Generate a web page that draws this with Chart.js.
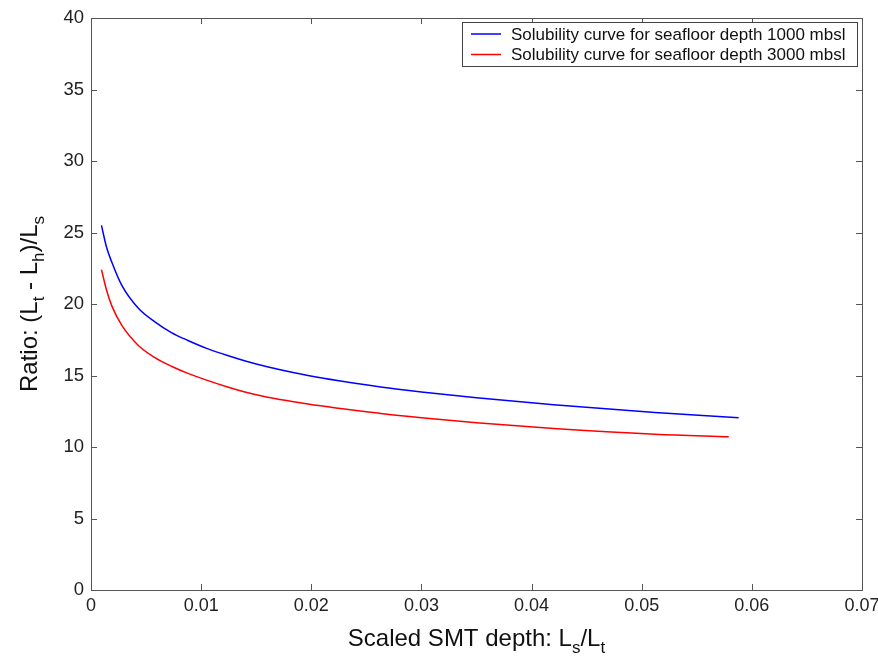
<!DOCTYPE html>
<html>
<head>
<meta charset="utf-8">
<script src="https://cdn.jsdelivr.net/npm/chart.js@4.4.0/dist/chart.umd.min.js"></script>
<style>
  body { margin: 0; background: #fff; }
  #chart { display: block; }
</style>
</head>
<body>
<canvas id="chart" width="878" height="664"></canvas>
<script>
// valeurs
const xDepth1000 = [0.00095, 0.0014, 0.0019, 0.0028, 0.0043, 0.0058, 0.0073, 0.0088, 0.0105, 0.0124, 0.015, 0.0197, 0.0263, 0.030, 0.035, 0.042, 0.0512, 0.0588];
const ratio1000  = [25.5, 24.0, 22.9, 21.3, 19.7, 18.75, 18.0, 17.45, 16.9, 16.4, 15.8, 15.0, 14.2, 13.85, 13.45, 12.95, 12.42, 12.05];
const xDepth3000 = [0.00095, 0.0014, 0.0019, 0.0028, 0.0043, 0.0058, 0.0073, 0.0088, 0.0124, 0.015, 0.0197, 0.0263, 0.030, 0.035, 0.042, 0.0512, 0.0579];
const ratio3000  = [22.4, 21.0, 19.85, 18.5, 17.1, 16.25, 15.65, 15.15, 14.2, 13.65, 13.0, 12.35, 12.05, 11.7, 11.3, 10.9, 10.72];

const seriesLabels = ["Solubility curve for seafloor depth 1000 mbsl", "Solubility curve for seafloor depth 3000 mbsl"];
const seriesColors = ["#0000ff", "#ff0000"];

const FONT = "'Liberation Sans', Arial, sans-serif";

function toPoints(xs, ys) {
    return xs.map((x, i) => ({ x: x, y: ys[i] }));
}

// dessine un texte avec indices (L_t etc.)
function drawSubText(ctx, parts, x, y, size, align) {
    const subSize = Math.round(size * 0.72);
    let total = 0;
    parts.forEach(p => {
        ctx.font = (p.sub ? subSize : size) + "px " + FONT;
        total += ctx.measureText(p.t).width;
    });
    let cx = align === "center" ? x - total / 2 : x;
    ctx.textAlign = "left";
    ctx.textBaseline = "alphabetic";
    parts.forEach(p => {
        ctx.font = (p.sub ? subSize : size) + "px " + FONT;
        ctx.fillText(p.t, cx, p.sub ? y + size * 0.3 : y);
        cx += ctx.measureText(p.t).width;
    });
}

// cadre, graduations internes, titres et légende façon matlab
const matlabFrame = {
    id: "matlabFrame",
    afterDraw(chart) {
        const ctx = chart.ctx;
        const a = chart.chartArea;
        const xs = chart.scales.x, ys = chart.scales.y;
        ctx.save();
        ctx.strokeStyle = "#555";
        ctx.lineWidth = 1;
        ctx.strokeRect(a.left + 0.5, a.top + 0.5, a.right - a.left, a.bottom - a.top);

        const tl = 6;
        ctx.beginPath();
        xs.ticks.forEach(t => {
            const px = Math.round(xs.getPixelForValue(t.value)) + 0.5;
            ctx.moveTo(px, a.bottom); ctx.lineTo(px, a.bottom - tl);
            ctx.moveTo(px, a.top); ctx.lineTo(px, a.top + tl);
        });
        ys.ticks.forEach(t => {
            const py = Math.round(ys.getPixelForValue(t.value)) + 0.5;
            ctx.moveTo(a.left, py); ctx.lineTo(a.left + tl, py);
            ctx.moveTo(a.right, py); ctx.lineTo(a.right - tl, py);
        });
        ctx.stroke();

        // titres des axes
        ctx.fillStyle = "#111";
        drawSubText(ctx, [{t: "Scaled SMT depth: L"}, {t: "s", sub: true}, {t: "/L"}, {t: "t", sub: true}],
            (a.left + a.right) / 2, 646, 24, "center");
        ctx.save();
        ctx.translate(37, (a.top + a.bottom) / 2);
        ctx.rotate(-Math.PI / 2);
        drawSubText(ctx, [{t: "Ratio: (L"}, {t: "t", sub: true}, {t: " - L"}, {t: "h", sub: true}, {t: ")/L"}, {t: "s", sub: true}],
            0, 0, 24, "center");
        ctx.restore();

        // légende
        const lx = 462.5, ly = 22.5, lw = 395, lh = 44;
        ctx.fillStyle = "#fff";
        ctx.fillRect(lx, ly, lw, lh);
        ctx.strokeStyle = "#444";
        ctx.strokeRect(lx, ly, lw, lh);
        ctx.font = "17px " + FONT;
        ctx.textBaseline = "middle";
        ctx.textAlign = "left";
        chart.data.datasets.forEach((ds, i) => {
            const yy = 34 + i * 20.5;
            ctx.strokeStyle = ds.borderColor;
            ctx.lineWidth = 1.5;
            ctx.beginPath();
            ctx.moveTo(471, yy); ctx.lineTo(501, yy);
            ctx.stroke();
            ctx.fillStyle = "#111";
            ctx.fillText(ds.label, 511, yy + 1);
        });
        ctx.restore();
    }
};

new Chart(document.getElementById("chart"), {
    type: "line",
    data: {
        datasets: [
            { label: seriesLabels[0], data: toPoints(xDepth1000, ratio1000), borderColor: seriesColors[0] },
            { label: seriesLabels[1], data: toPoints(xDepth3000, ratio3000), borderColor: seriesColors[1] }
        ]
    },
    options: {
        responsive: false,
        animation: false,
        layout: { padding: { left: 0, top: 18, right: 16, bottom: 0 } },
        elements: {
            line: { borderWidth: 1.5, cubicInterpolationMode: "monotone", fill: false },
            point: { radius: 0 }
        },
        plugins: { legend: { display: false }, tooltip: { enabled: false } },
        scales: {
            x: {
                type: "linear", min: 0, max: 0.07,
                ticks: {
                    stepSize: 0.01, color: "#222", padding: 5,
                    font: { family: FONT, size: 18 },
                    callback: v => String(+v.toFixed(2))
                },
                grid: { display: false, drawTicks: false },
                border: { display: false },
                afterFit: s => { s.height = 74; s.paddingLeft = 0; s.paddingRight = 0; }
            },
            y: {
                min: 0, max: 40,
                ticks: {
                    stepSize: 5, color: "#222", padding: 7,
                    font: { family: FONT, size: 18.5 }
                },
                grid: { display: false, drawTicks: false },
                border: { display: false },
                afterFit: s => { s.width = 91; s.paddingTop = 0; s.paddingBottom = 0; }
            }
        }
    },
    plugins: [matlabFrame]
});
</script>
</body>
</html>
